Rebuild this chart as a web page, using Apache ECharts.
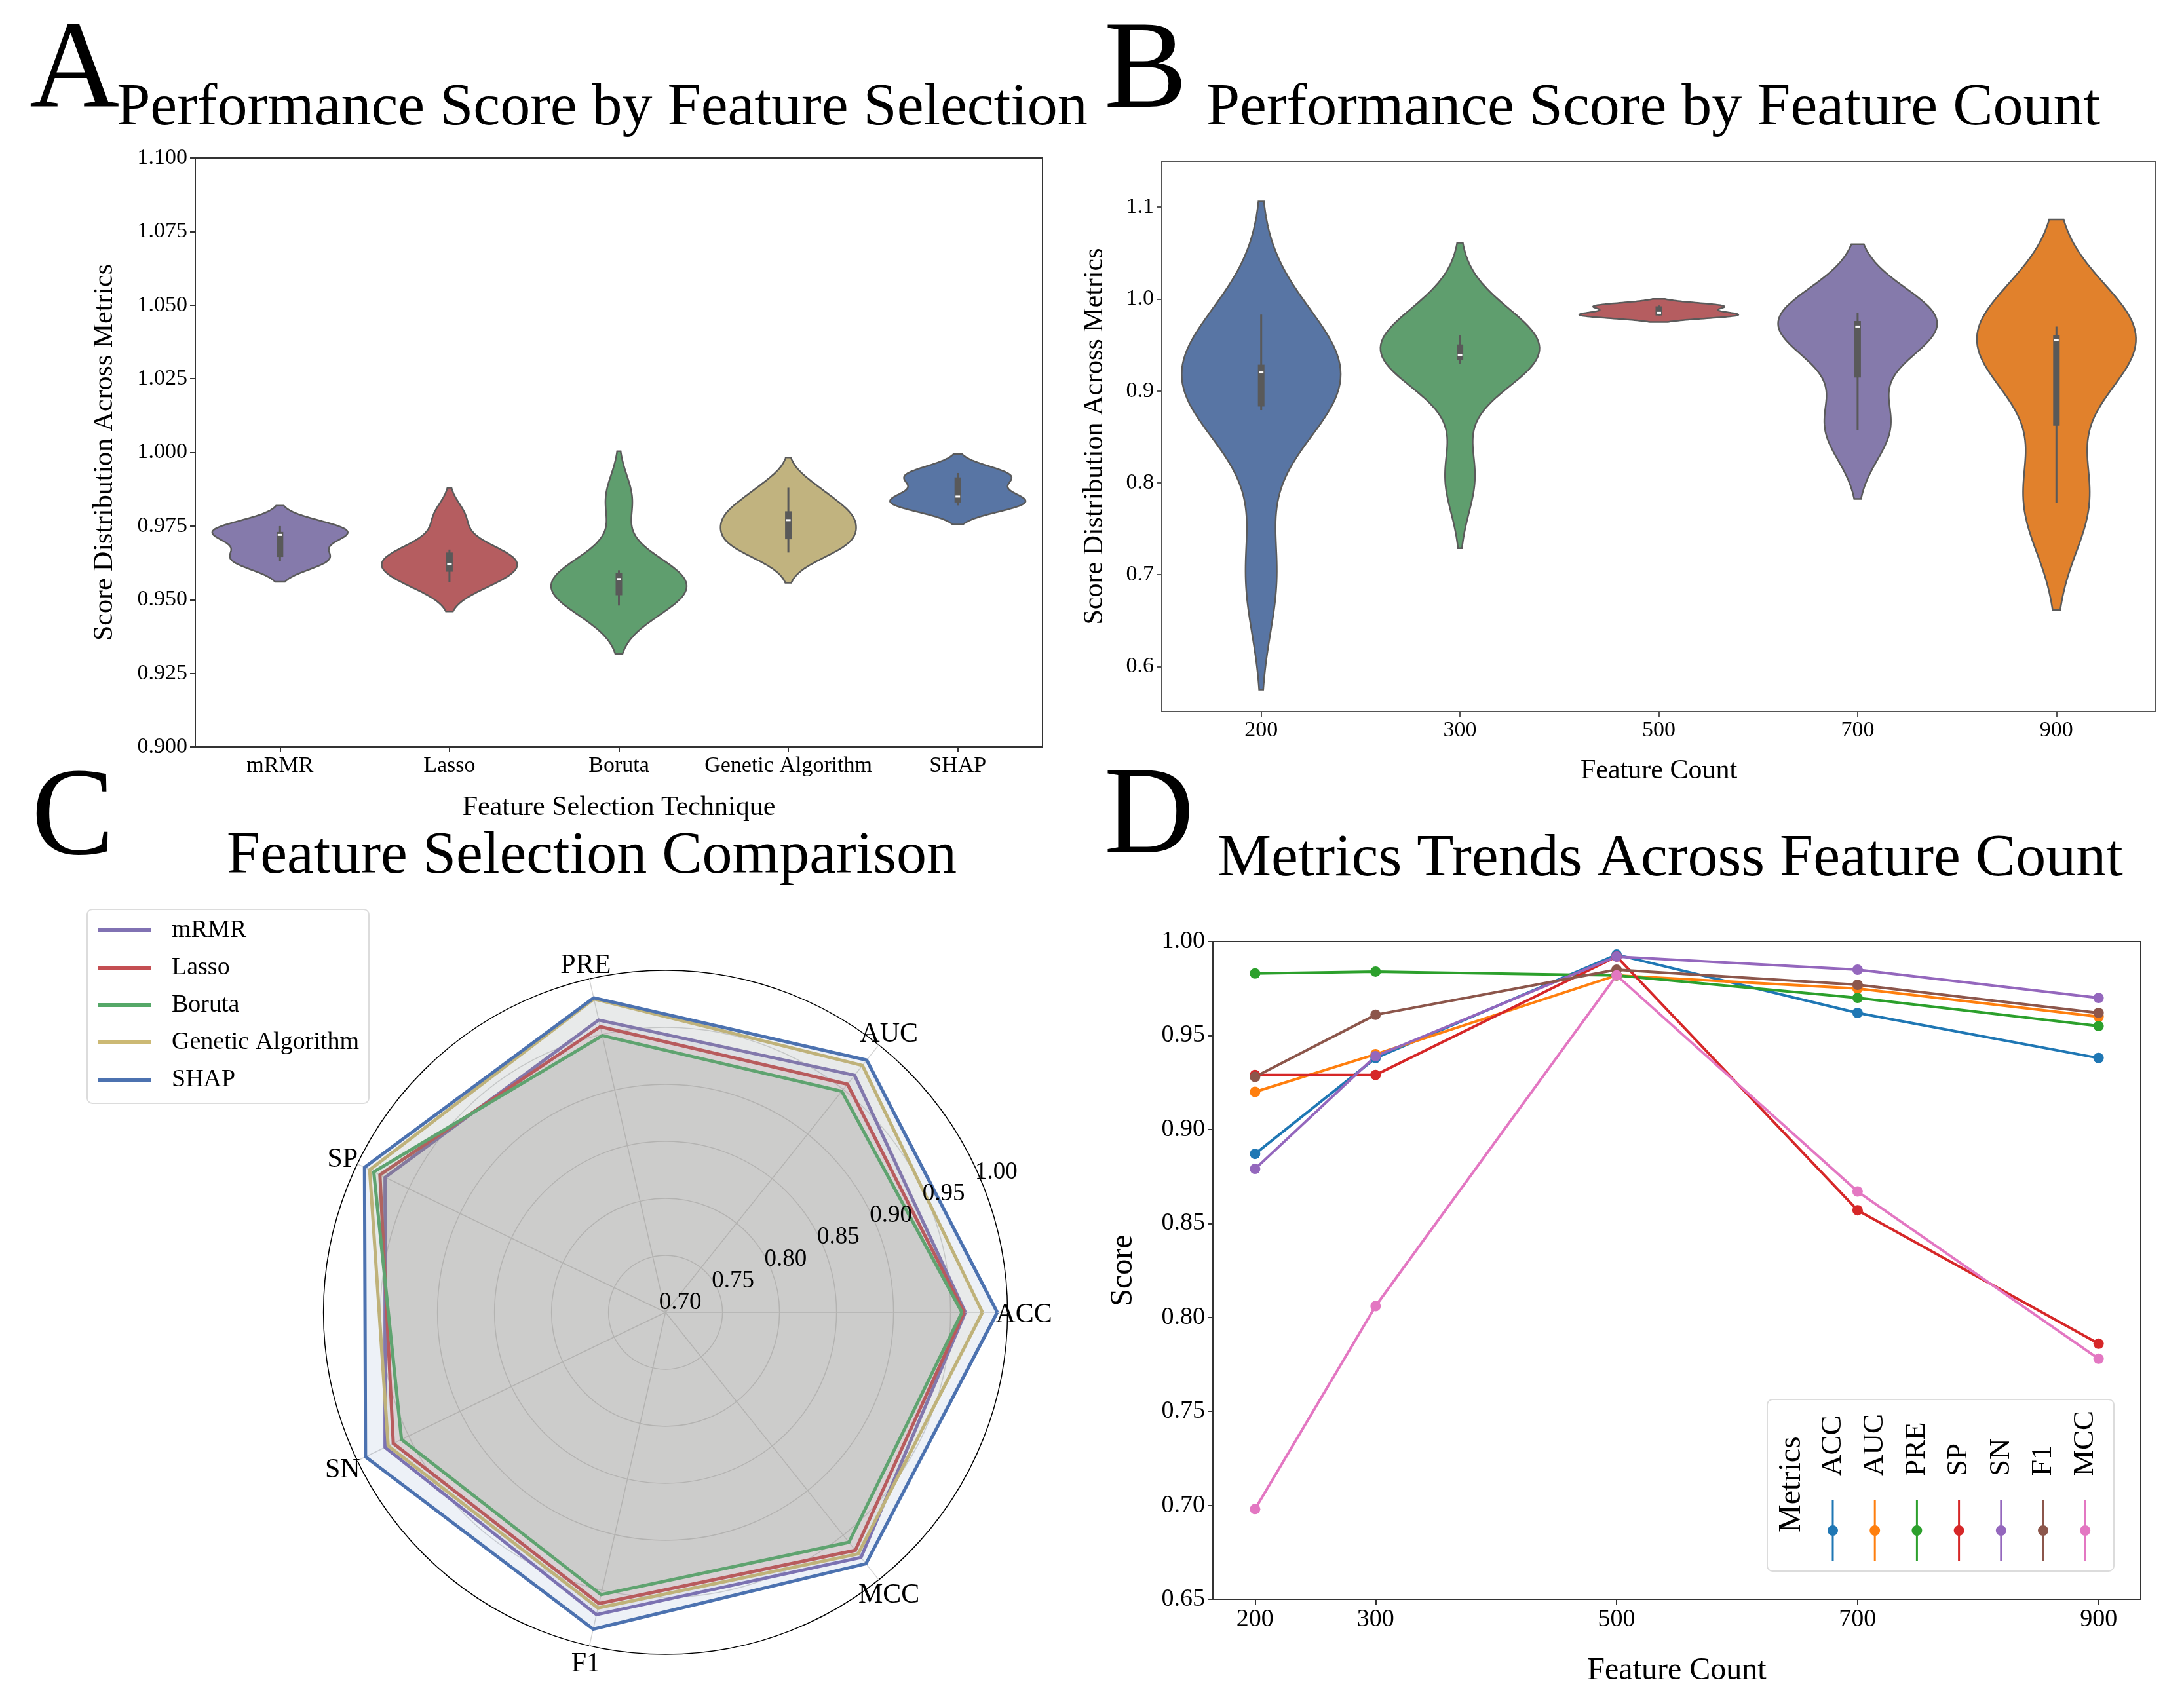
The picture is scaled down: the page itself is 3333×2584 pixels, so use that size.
<!DOCTYPE html>
<html>
<head>
<meta charset="utf-8">
<title>Feature selection performance</title>
<script src="https://cdn.jsdelivr.net/npm/echarts@6.0.0/dist/echarts.min.js"></script>
<style>
  html, body { margin: 0; padding: 0; background: #fff; }
  #main { width: 3333px; height: 2584px; }
</style>
</head>
<body>
<div id="main"></div>
<script>
// ---- data ----
var techniques = ['mRMR', 'Lasso', 'Boruta', 'Genetic Algorithm', 'SHAP'];
var metrics = ['ACC', 'AUC', 'PRE', 'SP', 'SN', 'F1', 'MCC'];

// panel C: score per metric (order of metrics) for each technique
var mrmrScores   = [0.963, 0.966, 0.963, 0.973, 0.973, 0.972, 0.975];
var lassoScores  = [0.962, 0.956, 0.957, 0.978, 0.965, 0.962, 0.967];
var borutaScores = [0.960, 0.948, 0.949, 0.984, 0.957, 0.954, 0.958];
var gaScores     = [0.978, 0.977, 0.982, 0.988, 0.970, 0.966, 0.971];
var shapScores   = [0.991, 0.983, 0.983, 0.993, 0.992, 0.985, 0.982];

// panel D: score per feature count for each metric
var featureCounts = [200, 300, 500, 700, 900];
var accTrend = [0.887, 0.938, 0.993, 0.962, 0.938];
var aucTrend = [0.920, 0.940, 0.982, 0.975, 0.960];
var preTrend = [0.983, 0.984, 0.982, 0.970, 0.955];
var spTrend  = [0.929, 0.929, 0.992, 0.857, 0.786];
var snTrend  = [0.879, 0.939, 0.992, 0.985, 0.970];
var f1Trend  = [0.928, 0.961, 0.985, 0.977, 0.962];
var mccTrend = [0.698, 0.806, 0.982, 0.867, 0.778];

// tick labels
var ticksA = [0.900, 0.925, 0.950, 0.975, 1.000, 1.025, 1.050, 1.075, 1.100];
var ticksB = [0.6, 0.7, 0.8, 0.9, 1.0, 1.1];
var ticksD = [0.65, 0.70, 0.75, 0.80, 0.85, 0.90, 0.95, 1.00];

// ---- styles ----
var FONT = 'Liberation Serif';
var violinAColors = ['#857aab', '#b55d60', '#5f9e6e', '#c1b37f', '#5875a4'];
var violinBColors = ['#5875a4', '#5f9e6e', '#b55d60', '#857aab', '#e1812c'];
var radarColors = ['#8172b3', '#c44e52', '#55a868', '#ccb974', '#4c72b0'];
var metricColors = ['#1f77b4', '#ff7f0e', '#2ca02c', '#d62728', '#9467bd', '#8c564b', '#e377c2'];

var radarScores = [mrmrScores, lassoScores, borutaScores, gaScores, shapScores];
var trends = [accTrend, aucTrend, preTrend, spTrend, snTrend, f1Trend, mccTrend];

var RADAR_CENTER = [1015.6, 2003];
var RADAR_RADIUS = 522;

// ---- violin statistics (gaussian kde, scott bandwidth, cut = 2) ----
function percentile(sorted, p) {
    var pos = p * (sorted.length - 1);
    var lo = Math.floor(pos), hi = Math.ceil(pos);
    return sorted[lo] + (sorted[hi] - sorted[lo]) * (pos - lo);
}

function violinStats(values) {
    var n = values.length;
    var mean = values.reduce(function (a, b) { return a + b; }, 0) / n;
    var ss = 0;
    values.forEach(function (v) { ss += (v - mean) * (v - mean); });
    var sd = Math.sqrt(ss / (n - 1));
    var bw = sd * Math.pow(n, -0.2);
    var sorted = values.slice().sort(function (a, b) { return a - b; });
    var lo = sorted[0] - 2 * bw, hi = sorted[n - 1] + 2 * bw;
    var ys = [], dens = [], dmax = 0;
    for (var i = 0; i < 100; i++) {
        var y = lo + (hi - lo) * i / 99;
        var d = 0;
        values.forEach(function (v) {
            var z = (y - v) / bw;
            d += Math.exp(-0.5 * z * z);
        });
        d = d / (n * bw * Math.sqrt(2 * Math.PI));
        ys.push(y); dens.push(d);
        if (d > dmax) dmax = d;
    }
    var q1 = percentile(sorted, 0.25), q2 = percentile(sorted, 0.5), q3 = percentile(sorted, 0.75);
    var fence = 1.5 * (q3 - q1);
    var inner = sorted.filter(function (v) { return v >= q1 - fence && v <= q3 + fence; });
    return { ys: ys, dens: dens, dmax: dmax, q1: q1, q2: q2, q3: q3,
             w1: inner[0], w2: inner[inner.length - 1] };
}

var statsA = radarScores.map(violinStats);
var statsB = featureCounts.map(function (c, j) {
    return violinStats(trends.map(function (t) { return t[j]; }));
});

function violinRenderer(stats, colors) {
    return function (params, api) {
        var idx = api.value(0);
        var s = stats[idx];
        var band = api.size([1, 0])[0];
        var cx = api.coord([idx, s.ys[0]])[0];
        var right = [], left = [];
        for (var i = 0; i < s.ys.length; i++) {
            var py = api.coord([idx, s.ys[i]])[1];
            var hw = 0.4 * band * s.dens[i] / s.dmax;
            right.push([cx + hw, py]);
            left.unshift([cx - hw, py]);
        }
        var yq1 = api.coord([idx, s.q1])[1], yq3 = api.coord([idx, s.q3])[1];
        var yw1 = api.coord([idx, s.w1])[1], yw2 = api.coord([idx, s.w2])[1];
        var ym = api.coord([idx, s.q2])[1];
        return {
            type: 'group',
            children: [
                { type: 'polygon', shape: { points: right.concat(left) },
                  style: { fill: colors[idx], stroke: '#5a5a5a', lineWidth: 2.5 } },
                { type: 'line', shape: { x1: cx, y1: yw1, x2: cx, y2: yw2 },
                  style: { stroke: '#595959', lineWidth: 3 } },
                { type: 'rect', shape: { x: cx - 5, y: yq3, width: 10, height: yq1 - yq3 },
                  style: { fill: '#595959' } },
                { type: 'rect', shape: { x: cx - 3.5, y: ym - 1.5, width: 7, height: 3 },
                  style: { fill: '#fff' } }
            ]
        };
    };
}

var graphics = [];

// ---- radar axis names, centred just outside the outer ring (matplotlib style) ----
metrics.forEach(function (m, i) {
    var a = i * 2 * Math.PI / metrics.length;
    graphics.push({ type: 'text', z: 6,
        x: RADAR_CENTER[0] + 547 * Math.cos(a),
        y: RADAR_CENTER[1] - 547 * Math.sin(a) + 4,
        style: { text: m, fontSize: 42, fontFamily: FONT, fill: '#000',
                 align: 'center', verticalAlign: 'middle' } });
});

// ---- D legend (rotated, drawn as graphics) ----
graphics.push({ type: 'rect', shape: { x: 2697, y: 2136, width: 529, height: 262, r: 8 },
               style: { fill: '#fff', stroke: '#dcdcdc', lineWidth: 2 }, z: 10 });
graphics.push({ type: 'text', x: 2734, y: 2339, rotation: Math.PI / 2, z: 11,
               style: { text: 'Metrics', fontSize: 48, fontFamily: FONT, fill: '#000',
                        align: 'left', verticalAlign: 'middle' } });
metrics.forEach(function (m, i) {
    var x = 2797 + i * 64.2;
    graphics.push({ type: 'text', x: x, y: 2253, rotation: Math.PI / 2, z: 11,
                   style: { text: m, fontSize: 45, fontFamily: FONT, fill: '#000',
                            align: 'left', verticalAlign: 'middle' } });
    graphics.push({ type: 'line', z: 11, shape: { x1: x, y1: 2289, x2: x, y2: 2383 },
                   style: { stroke: metricColors[i], lineWidth: 3 } });
    graphics.push({ type: 'circle', z: 11, shape: { cx: x, cy: 2336, r: 8 },
                   style: { fill: metricColors[i] } });
});

// ---- chart ----
var chart = echarts.init(document.getElementById('main'), null, { renderer: 'canvas' });

function titleItem(text, left, top, size, align) {
    return { text: text, left: left, top: top, textAlign: align, padding: 0,
             textStyle: { fontFamily: FONT, fontWeight: 'normal', fontSize: size, color: '#000' } };
}

function axisStyle(color, labelSize) {
    return {
        axisLine: { show: true, lineStyle: { color: color, width: 2 } },
        axisTick: { show: true, length: 8, lineStyle: { color: color, width: 2 } },
        axisLabel: { color: '#000', fontSize: labelSize, fontFamily: FONT, margin: 12 },
        splitLine: { show: false },
        nameTextStyle: { color: '#000', fontFamily: FONT }
    };
}

function merge(a, b) { return Object.assign({}, a, b); }

var option = {
    backgroundColor: '#fff',
    animation: false,
    title: [
        titleItem('A', 45, 18, 190, 'left'),
        titleItem('Performance Score by Feature Selection', 919, 120, 92, 'center'),
        titleItem('B', 1685, 18, 190, 'left'),
        titleItem('Performance Score by Feature Count', 2523, 120, 92, 'center'),
        titleItem('C', 48, 1158, 190, 'left'),
        titleItem('Feature Selection Comparison', 903, 1262, 92, 'center'),
        titleItem('D', 1685, 1156, 190, 'left'),
        titleItem('Metrics Trends Across Feature Count', 2549, 1266, 92, 'center')
    ],
    grid: [
        { left: 298, top: 241, width: 1293, height: 899, show: true, borderColor: '#333', borderWidth: 2 },
        { left: 1773, top: 246, width: 1517, height: 840, show: true, borderColor: '#555', borderWidth: 2 },
        { left: 1851, top: 1437, width: 1416, height: 1004, show: true, borderColor: '#333', borderWidth: 2 }
    ],
    xAxis: [
        merge(axisStyle('#333', 34), {
            gridIndex: 0, type: 'category', data: techniques,
            axisTick: { show: true, alignWithLabel: true, length: 8, lineStyle: { color: '#333', width: 2 } },
            axisLabel: { color: '#000', fontSize: 34, fontFamily: FONT, margin: 12, interval: 0 },
            name: 'Feature Selection Technique', nameLocation: 'middle', nameGap: 72,
            nameTextStyle: { color: '#000', fontFamily: FONT, fontSize: 42 }
        }),
        merge(axisStyle('#555', 34), {
            gridIndex: 1, type: 'category', data: featureCounts.map(String),
            axisTick: { show: true, alignWithLabel: true, length: 8, lineStyle: { color: '#555', width: 2 } },
            axisLabel: { color: '#000', fontSize: 34, fontFamily: FONT, margin: 12, interval: 0 },
            name: 'Feature Count', nameLocation: 'middle', nameGap: 70,
            nameTextStyle: { color: '#000', fontFamily: FONT, fontSize: 42 }
        }),
        merge(axisStyle('#333', 38), {
            gridIndex: 2, type: 'value', min: 165, max: 935,
            axisTick: { show: true, length: 8, lineStyle: { color: '#333', width: 2 }, customValues: featureCounts },
            axisLabel: { color: '#000', fontSize: 38, fontFamily: FONT, margin: 12, customValues: featureCounts },
            name: 'Feature Count', nameLocation: 'middle', nameGap: 85,
            nameTextStyle: { color: '#000', fontFamily: FONT, fontSize: 48 }
        })
    ],
    yAxis: [
        merge(axisStyle('#333', 34), {
            gridIndex: 0, type: 'value', min: ticksA[0], max: ticksA[ticksA.length - 1], interval: 0.025,
            axisLabel: { color: '#000', fontSize: 34, fontFamily: FONT, margin: 12,
                         formatter: function (v) { return v.toFixed(3); } },
            name: 'Score Distribution Across Metrics', nameLocation: 'middle', nameGap: 117,
            nameTextStyle: { color: '#000', fontFamily: FONT, fontSize: 42 }
        }),
        merge(axisStyle('#555', 34), {
            gridIndex: 1, type: 'value', min: 0.551, max: 1.15,
            axisTick: { show: true, length: 8, lineStyle: { color: '#555', width: 2 }, customValues: ticksB },
            axisLabel: { color: '#000', fontSize: 34, fontFamily: FONT, margin: 12, customValues: ticksB,
                         formatter: function (v) { return v.toFixed(1); } },
            name: 'Score Distribution Across Metrics', nameLocation: 'middle', nameGap: 81,
            nameTextStyle: { color: '#000', fontFamily: FONT, fontSize: 42 }
        }),
        merge(axisStyle('#333', 38), {
            gridIndex: 2, type: 'value', min: ticksD[0], max: ticksD[ticksD.length - 1], interval: 0.05,
            axisLabel: { color: '#000', fontSize: 38, fontFamily: FONT, margin: 12,
                         formatter: function (v) { return v.toFixed(2); } },
            name: 'Score', nameLocation: 'middle', nameGap: 113,
            nameTextStyle: { color: '#000', fontFamily: FONT, fontSize: 48 }
        })
    ],
    radar: {
        center: RADAR_CENTER, radius: RADAR_RADIUS, startAngle: 0, shape: 'circle', splitNumber: 6,
        indicator: metrics.map(function (m) { return { name: m, min: 0.7, max: 1.0 }; }),
        axisName: { show: false },
        splitArea: { show: false },
        splitLine: { lineStyle: { width: 1.5,
            color: ['#d4d4d4', '#d4d4d4', '#d4d4d4', '#d4d4d4', '#d4d4d4', '#d4d4d4', '#000'] } },
        axisLine: { lineStyle: { color: '#d4d4d4', width: 1.5 } },
        axisTick: { show: false },
        axisLabel: { show: false }
    },
    // radial tick labels at 22.5 deg, offset like matplotlib's rlabels
    polar: { center: [RADAR_CENTER[0] + 58, RADAR_CENTER[1] - 7], radius: RADAR_RADIUS },
    angleAxis: { startAngle: 22.5, min: 0, max: 360, show: false },
    radiusAxis: {
        min: 0.7, max: 1.0, interval: 0.05,
        axisLine: { show: false }, axisTick: { show: false }, splitLine: { show: false },
        axisLabel: { color: '#000', fontSize: 37, fontFamily: FONT,
                     formatter: function (v) { return v.toFixed(2); } },
        z: 5
    },
    legend: {
        data: techniques, orient: 'vertical', left: 133, top: 1388,
        icon: 'rect', itemWidth: 82, itemHeight: 6, itemGap: 17,
        padding: [12, 15, 16, 16],
        backgroundColor: '#fff', borderColor: '#dcdcdc', borderWidth: 2, borderRadius: 8,
        textStyle: { fontFamily: FONT, fontSize: 38, color: '#000', lineHeight: 40, padding: [0, 0, 0, 26] }
    },
    graphic: graphics,
    series: []
};

option.series.push({
    type: 'custom', name: 'violinA', xAxisIndex: 0, yAxisIndex: 0,
    renderItem: violinRenderer(statsA, violinAColors),
    data: techniques.map(function (t, i) { return [i]; })
});
option.series.push({
    type: 'custom', name: 'violinB', xAxisIndex: 1, yAxisIndex: 1,
    renderItem: violinRenderer(statsB, violinBColors),
    data: featureCounts.map(function (c, i) { return [i]; })
});
techniques.forEach(function (t, i) {
    option.series.push({
        type: 'radar', name: t, symbol: 'none',
        lineStyle: { color: radarColors[i], width: 5 },
        itemStyle: { color: radarColors[i] },
        areaStyle: { color: radarColors[i], opacity: 0.1 },
        data: [{ name: t, value: radarScores[i] }]
    });
});
metrics.forEach(function (m, i) {
    option.series.push({
        type: 'line', name: m, xAxisIndex: 2, yAxisIndex: 2,
        symbol: 'circle', symbolSize: 16,
        lineStyle: { color: metricColors[i], width: 4 },
        itemStyle: { color: metricColors[i] },
        data: featureCounts.map(function (c, j) { return [c, trends[i][j]]; })
    });
});

chart.setOption(option);
</script>
</body>
</html>
